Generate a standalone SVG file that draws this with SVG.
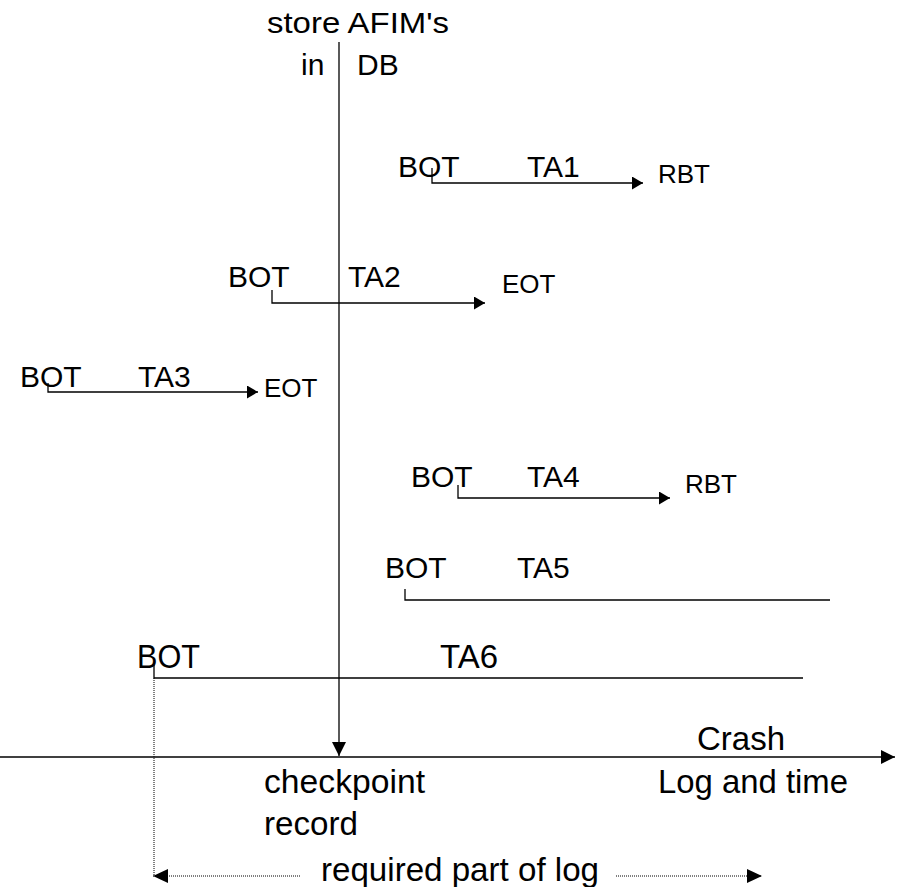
<svg xmlns="http://www.w3.org/2000/svg" width="906" height="887" viewBox="0 0 906 887">
<style>
text{font-family:"Liberation Sans",Arial,sans-serif;fill:#000}
.t{font-size:30px}
.s{font-size:26px}
.b{font-size:33px}
.ln{fill:none;stroke:#000;stroke-width:1.3}
.dot{fill:none;stroke:#000;stroke-width:1;stroke-dasharray:1 1}
</style>
<defs>
<marker id="ah" viewBox="0 0 10 10" refX="10" refY="5" markerWidth="11" markerHeight="13" markerUnits="userSpaceOnUse" orient="auto" preserveAspectRatio="none"><path d="M0,0L10,5L0,10z"/></marker>
<marker id="big" viewBox="0 0 10 10" refX="10" refY="5" markerWidth="14" markerHeight="14" markerUnits="userSpaceOnUse" orient="auto" preserveAspectRatio="none"><path d="M0,0L10,5L0,10z"/></marker>
<marker id="mid" viewBox="0 0 10 10" refX="10" refY="5" markerWidth="15" markerHeight="14" markerUnits="userSpaceOnUse" orient="auto" preserveAspectRatio="none"><path d="M0,0L10,5L0,10z"/></marker>
</defs>
<g id="connectors">
<path class="ln" d="M339,42V756" marker-end="url(#big)"/>
<path class="ln" d="M0,757H895" stroke-width="1.6" marker-end="url(#big)"/>
<path class="ln" d="M432,168V183H643" marker-end="url(#ah)"/>
<path class="ln" d="M272,290V303H485" marker-end="url(#ah)"/>
<path class="ln" d="M48,383V392H258" marker-end="url(#ah)"/>
<path class="ln" d="M458,485V498H670" marker-end="url(#ah)"/>
<path class="ln" d="M405,589V600H830"/>
<path class="ln" d="M154,665V678H803"/>
<path class="dot" d="M154,678V876"/>
<path class="dot" d="M300,876H153" marker-end="url(#mid)"/>
<path class="dot" d="M616,876H762" marker-end="url(#mid)"/>
</g>
<g id="store">
<text class="t" x="267" y="33" textLength="182" lengthAdjust="spacingAndGlyphs">store AFIM's</text>
<text class="t" x="301" y="75">in</text>
<text class="t" x="357" y="75">DB</text>
</g>
<g id="ta1">
<text class="t" x="398" y="177">BOT</text>
<text class="t" x="527" y="177">TA1</text>
<text class="s" x="658" y="183">RBT</text>
</g>
<g id="ta2">
<text class="t" x="228" y="287">BOT</text>
<text class="t" x="348" y="287">TA2</text>
<text class="s" x="502" y="293">EOT</text>
</g>
<g id="ta3">
<text class="t" x="20" y="387">BOT</text>
<text class="t" x="138" y="387">TA3</text>
<text class="s" x="264" y="397">EOT</text>
</g>
<g id="ta4">
<text class="t" x="411" y="487">BOT</text>
<text class="t" x="527" y="487">TA4</text>
<text class="s" x="685" y="493">RBT</text>
</g>
<g id="ta5">
<text class="t" x="385" y="578">BOT</text>
<text class="t" x="517" y="578">TA5</text>
</g>
<g id="ta6">
<text class="b" x="137" y="668" textLength="63" lengthAdjust="spacingAndGlyphs">BOT</text>
<text class="b" x="440" y="668" textLength="58" lengthAdjust="spacingAndGlyphs">TA6</text>
</g>
<g id="labels">
<text class="b" x="697" y="750" textLength="88" lengthAdjust="spacingAndGlyphs">Crash</text>
<text class="b" x="658" y="793" textLength="190" lengthAdjust="spacingAndGlyphs">Log and time</text>
<text class="b" x="264" y="793" textLength="161" lengthAdjust="spacingAndGlyphs">checkpoint</text>
<text class="b" x="264" y="835" textLength="94" lengthAdjust="spacingAndGlyphs">record</text>
<text class="b" x="321" y="881" textLength="278" lengthAdjust="spacingAndGlyphs">required part of log</text>
</g>
</svg>
